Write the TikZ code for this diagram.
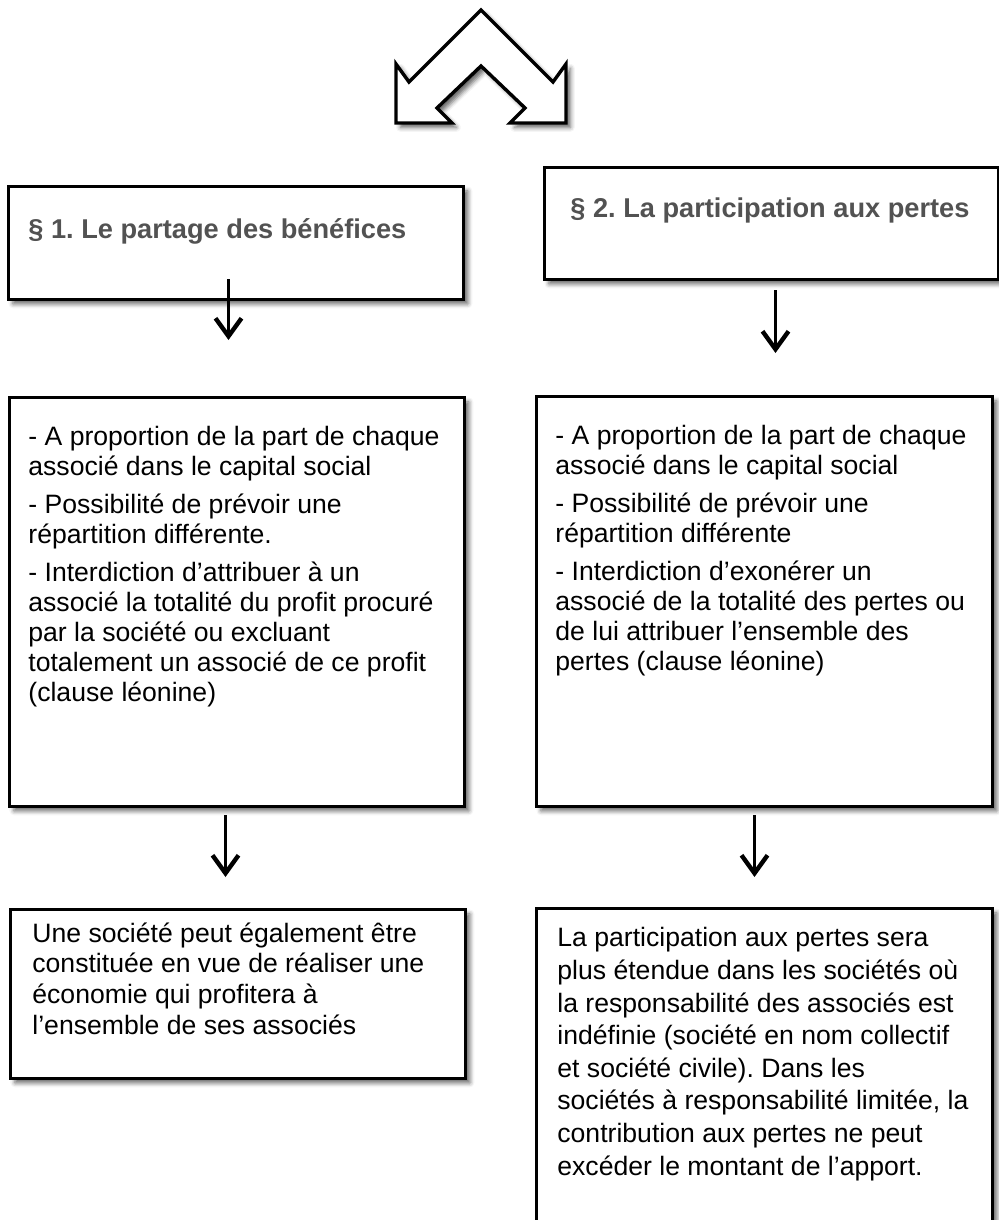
\documentclass[tikz,border=0pt]{standalone}
\usepackage{fontspec}
\setmainfont{Liberation Sans}
\usetikzlibrary{arrows.meta,shadows.blur,calc}
\frenchspacing

\begin{document}
\begin{tikzpicture}[x=0.5pt,y=-0.5pt,
  shade/.style={blur shadow={shadow xshift=2.2pt,shadow yshift=-2.2pt,
      shadow blur radius=2.2pt,shadow opacity=60}},
  frame/.style={draw,line width=1.5pt,fill=white,inner sep=0pt,
    anchor=north west,shade},
  head/.style={anchor=base west,inner sep=0pt,text=black!68,
    font=\fontsize{13.6}{15}\selectfont\bfseries},
  % multi-line texts are placed by the baseline of their last line
  body/.style={anchor=base west,inner sep=0pt,align=left,
    font=\fontsize{13.3}{15}\selectfont},
  flow/.style={line width=1.3pt,
    -{Straight Barb[length=9pt,width=13pt,line width=2.2pt]}}]
  \useasboundingbox (0,0) rectangle (999,1220);

  % double arrow on top
  \draw[line width=1.7pt,fill=white,shade]
    (481,10) -- (553,82) -- (566,64) -- (566,123) -- (510,123)
    -- (525,108) -- (481,66) -- (437,108) -- (452,123) -- (396,123)
    -- (396,64) -- (409,82) -- cycle;

  % frames
  \node[frame,minimum width=227.5pt,minimum height=56.5pt] (hd1) at (7,185) {};
  \node[frame,minimum width=227pt,minimum height=56pt] (hd2) at (543,166) {};
  \node[frame,minimum width=227.5pt,minimum height=204.5pt] (mid1) at (8,396) {};
  \node[frame,minimum width=228pt,minimum height=205pt] (mid2) at (535,395) {};
  \node[frame,minimum width=227.5pt,minimum height=84.5pt] (low1) at (9,908) {};
  \node[frame,minimum width=228pt,minimum height=171.5pt] (low2) at (535,907) {};

  % texts
  \node[head] (hd1txt) at (28,238) {§ 1. Le partage des bénéfices};
  \node[head] (hd2txt) at (570,217) {§ 2. La participation aux pertes};

  \node[body] (mid1txt) at (28,701) {- A proportion de la part de chaque\\
    associé dans le capital social\\[4pt]
    - Possibilité de prévoir une\\
    répartition différente.\\[4pt]
    - Interdiction d’attribuer à un\\
    associé la totalité du profit procuré\\
    par la société ou excluant\\
    totalement un associé de ce profit\\
    (clause léonine)};
  \node[body] (mid2txt) at (555,670) {- A proportion de la part de chaque\\
    associé dans le capital social\\[4pt]
    - Possibilité de prévoir une\\
    répartition différente\\[4pt]
    - Interdiction d’exonérer un\\
    associé de la totalité des pertes ou\\
    de lui attribuer l’ensemble des\\
    pertes (clause léonine)};
  \node[body,font=\fontsize{13.3}{15.3}\selectfont] (low1txt) at (32,1034)
    {Une société peut également être\\
    constituée en vue de réaliser une\\
    économie qui profitera à\\
    l’ensemble de ses associés};
  \node[body,font=\fontsize{13.3}{16.3}\selectfont] (low2txt) at (557,1175)
    {La participation aux pertes sera\\
    plus étendue dans les sociétés où\\
    la responsabilité des associés est\\
    indéfinie (société en nom collectif\\
    et société civile). Dans les\\
    sociétés à responsabilité limitée, la\\
    contribution aux pertes ne peut\\
    excéder le montant de l’apport.};

  % connectors
  \draw[flow] ($(hd1.south)+(-7.5,-22)$) -- ($(mid1.north)+(-8.5,-56)$);
  \draw[flow] ($(hd2.south)+(4,9)$) -- ($(mid2.north)+(11,-42)$);
  \draw[flow] ($(mid1.south)+(-11.5,7)$) -- ($(low1.north)+(-12.5,-31)$);
  \draw[flow] ($(mid2.south)+(-10,7)$) -- ($(low2.north)+(-10,-30)$);
\end{tikzpicture}
\end{document}
